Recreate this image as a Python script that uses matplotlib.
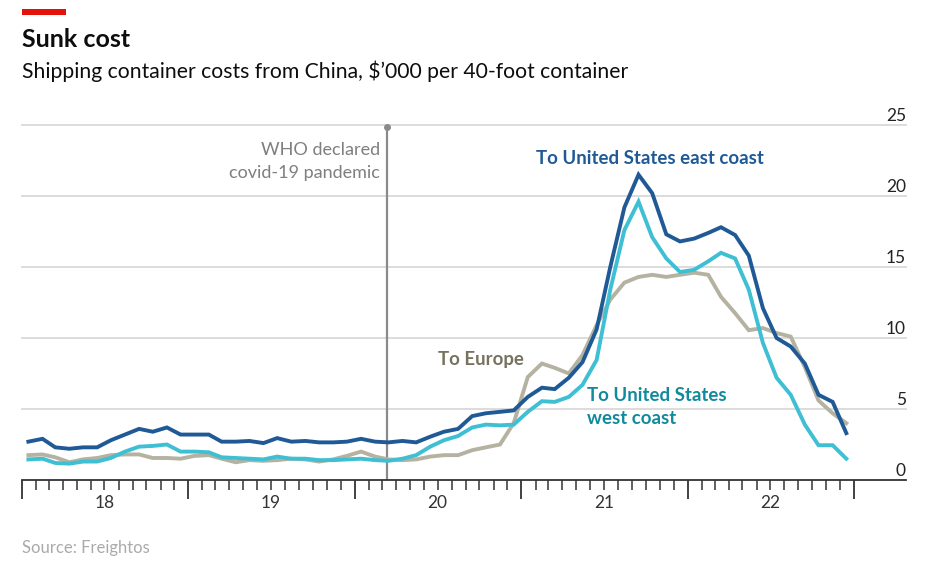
import matplotlib.pyplot as plt
import matplotlib.dates as mdates
import pandas as pd

plt.rcParams['font.family'] = ['Lato', 'DejaVu Sans']

# monthly averages, Jan 2018 - Dec 2022, $'000 per 40ft container
months = pd.date_range('2018-01-01', periods=60, freq='MS') + pd.Timedelta(days=14)

east_coast = [2.7, 2.9, 2.3, 2.2, 2.3, 2.3, 2.8, 3.2, 3.6, 3.4, 3.7, 3.2,
              3.2, 3.2, 2.7, 2.7, 2.75, 2.6, 2.95, 2.7, 2.75, 2.65, 2.65, 2.7,
              2.9, 2.7, 2.65, 2.75, 2.65, 3.05, 3.4, 3.6, 4.5, 4.7, 4.8, 4.9,
              5.85, 6.5, 6.4, 7.2, 8.3, 10.6, 15.0, 19.2, 21.5, 20.2, 17.3, 16.8,
              17.0, 17.4, 17.8, 17.25, 15.8, 12.1, 10.0, 9.4, 8.2, 6.0, 5.5, 3.3]

west_coast = [1.45, 1.5, 1.2, 1.15, 1.3, 1.3, 1.55, 2.0, 2.35, 2.4, 2.5, 2.0,
              2.0, 1.95, 1.6, 1.55, 1.5, 1.45, 1.65, 1.5, 1.5, 1.4, 1.4, 1.45,
              1.5, 1.4, 1.35, 1.5, 1.75, 2.35, 2.8, 3.1, 3.7, 3.9, 3.85, 3.9,
              4.8, 5.55, 5.5, 5.85, 6.7, 8.45, 13.4, 17.6, 19.6, 17.1, 15.6, 14.65,
              14.8, 15.4, 16.0, 15.6, 13.4, 9.65, 7.2, 6.0, 3.9, 2.45, 2.45, 1.5]

europe = [1.75, 1.8, 1.6, 1.25, 1.45, 1.55, 1.75, 1.8, 1.8, 1.55, 1.55, 1.5,
          1.7, 1.75, 1.5, 1.25, 1.4, 1.35, 1.4, 1.5, 1.45, 1.3, 1.45, 1.7,
          2.0, 1.65, 1.45, 1.4, 1.45, 1.65, 1.75, 1.75, 2.1, 2.3, 2.5, 4.0,
          7.25, 8.2, 7.9, 7.5, 8.8, 10.9, 12.7, 13.9, 14.3, 14.45, 14.3, 14.45,
          14.6, 14.45, 12.9, 11.75, 10.55, 10.7, 10.35, 10.1, 7.95, 5.6, 4.7, 4.0]

y_ticks = [0, 5, 10, 15, 20, 25]
year_labels = ['18', '19', '20', '21', '22']
who_date = pd.Timestamp('2020-03-11')

W, H = 932, 566
def px(x, y):
    # pixel position -> figure fraction
    return x / W, 1 - y / H

fig = plt.figure(figsize=(W / 100, H / 100), dpi=100)
ax = fig.add_axes([22 / W, 1 - 480 / H, (906 - 22) / W, (480 - 125) / H])

# lines
ax.plot(months, europe, color='#b5b2a1', lw=2.8, solid_joinstyle='miter', zorder=3)
ax.plot(months, west_coast, color='#3fbfd4', lw=2.8, solid_joinstyle='miter', zorder=4)
ax.plot(months, east_coast, color='#1f5a96', lw=2.8, solid_joinstyle='miter', zorder=5)

ax.set_xlim(pd.Timestamp('2018-01-01'), pd.Timestamp('2023-04-25'))
ax.set_ylim(0, 25)

# gridlines
for v in y_ticks[1:]:
    ax.axhline(v, color='#d9d9d9', lw=1.3, zorder=0, clip_on=False)

# y labels sit on top of the gridlines, right side
for v in y_ticks:
    ax.annotate(str(v), xy=(1, v), xycoords=('axes fraction', 'data'),
                xytext=(0, 4), textcoords='offset pixels',
                ha='right', va='baseline', fontsize=12.5, color='#222222')

# x ticks: years (long) and months (short)
ax.set_yticks([])
years = pd.date_range('2018-01-01', '2023-01-01', freq='YS')
month_ticks = pd.date_range('2018-01-01', '2023-01-01', freq='MS')
ax.set_xticks(mdates.date2num(years))
ax.set_xticks(mdates.date2num(month_ticks), minor=True)
ax.tick_params(axis='x', which='major', length=14, width=1.3, color='#333333', labelbottom=False)
ax.tick_params(axis='x', which='minor', length=7, width=1.1, color='#333333', labelbottom=False)
for i, lab in enumerate(year_labels):
    mid = pd.Timestamp(f'{2018 + i}-07-01')
    ax.annotate(lab, xy=(mdates.date2num(mid), 0), xycoords=('data', 'axes fraction'),
                xytext=(0, -28), textcoords='offset pixels',
                ha='center', va='baseline', fontsize=12.5, color='#333333')

for s in ['top', 'left', 'right']:
    ax.spines[s].set_visible(False)
ax.spines['bottom'].set_color('#333333')
ax.spines['bottom'].set_linewidth(1.3)
ax.set_facecolor('none')

# WHO marker
ax.plot([who_date, who_date], [0, 24.85], color='#8a8a8a', lw=1.6, zorder=2)
ax.plot([who_date], [24.85], 'o', color='#8a8a8a', ms=4, clip_on=False, zorder=2)
fig.text(*px(380, 155), 'WHO declared', ha='right', va='baseline', fontsize=13, color='#7f7f7f')
fig.text(*px(380, 178), 'covid-19 pandemic', ha='right', va='baseline', fontsize=13, color='#7f7f7f')

# series labels
lab_size = 13.4
fig.text(*px(536, 164), 'To United States east coast', ha='left', va='baseline',
         fontsize=lab_size, fontweight='bold', color='#1f5a96')
fig.text(*px(438, 365), 'To Europe', ha='left', va='baseline',
         fontsize=lab_size, fontweight='bold', color='#77725f')
fig.text(*px(587, 401), 'To United States', ha='left', va='baseline',
         fontsize=lab_size, fontweight='bold', color='#128a9e')
fig.text(*px(587, 424), 'west coast', ha='left', va='baseline',
         fontsize=lab_size, fontweight='bold', color='#128a9e')

# header
fig.patches.append(plt.Rectangle(px(22, 15), 44 / W, 6 / H, transform=fig.transFigure,
                                 color='#e3120b', lw=0))
fig.text(*px(22, 47), 'Sunk cost', ha='left', va='baseline', fontsize=18,
         fontweight='bold', color='#0d0d0d')
fig.text(*px(22, 78), "Shipping container costs from China, $\u2019000 per 40-foot container",
         ha='left', va='baseline', fontsize=15.2, color='#0d0d0d')
fig.text(*px(22, 553), 'Source: Freightos', ha='left', va='baseline', fontsize=12, color='#aaaaaa')

fig.savefig('out.png', dpi=100)
